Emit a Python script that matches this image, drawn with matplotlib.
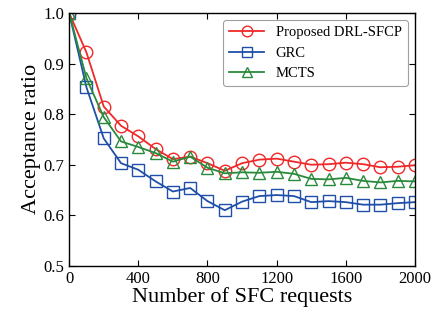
import numpy as np
import matplotlib
matplotlib.use("Agg")
import matplotlib.pyplot as plt

plt.rcParams["font.family"] = ["Liberation Serif", "DejaVu Serif"]
plt.rcParams["mathtext.fontset"] = "stix"

requests = np.arange(0, 2001, 100)

drl_sfcp = [1.0, 0.922, 0.815, 0.777, 0.756, 0.731, 0.711, 0.716, 0.703, 0.688, 0.703,
            0.710, 0.712, 0.706, 0.700, 0.701, 0.704, 0.701, 0.695, 0.696, 0.699]
grc = [1.0, 0.853, 0.752, 0.703, 0.690, 0.667, 0.647, 0.654, 0.628, 0.610, 0.627,
       0.638, 0.640, 0.638, 0.626, 0.628, 0.626, 0.621, 0.621, 0.624, 0.626]
mcts = [1.0, 0.871, 0.794, 0.746, 0.735, 0.723, 0.706, 0.716, 0.694, 0.683, 0.685,
        0.684, 0.686, 0.682, 0.672, 0.671, 0.674, 0.668, 0.665, 0.668, 0.667]

series_labels = ["Proposed DRL-SFCP", "GRC", "MCTS"]

fig = plt.figure(figsize=(4.35, 3.25), dpi=100)
ax = fig.add_axes([0.159, 0.182, 0.795, 0.778])

styles = [
    ("#f02828", "o"),
    ("#1f4fa8", "s"),
    ("#2a8a3c", "^"),
]
for values, label, (color, marker) in zip([drl_sfcp, grc, mcts], series_labels, styles):
    ax.plot(requests, values, color=color, marker=marker, markersize=9,
            markerfacecolor="none", markeredgecolor=color, markeredgewidth=1.0,
            linewidth=1.3, label=label)

ax.set_xlim(0, 2000)
ax.set_ylim(0.5, 1.0)
ax.set_xticks(np.arange(0, 2001, 400))
ax.set_yticks(np.arange(0.5, 1.01, 0.1))
ax.set_yticklabels([f"{v:.1f}" for v in np.arange(0.5, 1.01, 0.1)])
ax.tick_params(direction="in", labelsize=12, length=4, top=True, right=True)
for spine in ax.spines.values():
    spine.set_linewidth(1.0)

ax.set_xlabel("Number of SFC requests", fontsize=16, labelpad=0)
ax.set_ylabel("Acceptance ratio", fontsize=16, labelpad=2)

leg = ax.legend(loc="upper right", fontsize=10.5, markerscale=0.85,
                handlelength=2.4, borderaxespad=0.5, frameon=True, fancybox=True)
leg.get_frame().set_edgecolor("#888888")
leg.get_frame().set_linewidth(0.8)

fig.savefig("out.png", dpi=100)
